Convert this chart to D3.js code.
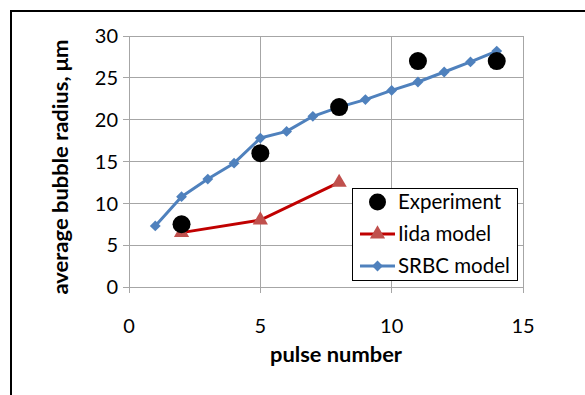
<!DOCTYPE html>
<html>
<head>
<meta charset="utf-8">
<script src="https://cdn.jsdelivr.net/npm/d3@7"></script>
<style>
  body { margin: 0; background: #fff; }
  text { font-family: Lato, "Open Sans", sans-serif; fill: #000; }
</style>
</head>
<body>
<svg id="chart"></svg>
<script>
// data
const pulses = [1, 2, 3, 4, 5, 6, 7, 8, 9, 10, 11, 12, 13, 14];
const srbc = [7.3, 10.8, 12.9, 14.8, 17.8, 18.6, 20.4, 21.5, 22.4, 23.5, 24.5, 25.7, 26.9, 28.2];
const iidaX = [2, 5, 8];
const iida = [6.5, 8.0, 12.5];
const expX = [2, 5, 8, 11, 14];
const experiment = [7.5, 16.0, 21.5, 27.0, 27.0];
const xTicks = [0, 5, 10, 15];
const yTicks = [0, 5, 10, 15, 20, 25, 30];

const width = 585, height = 395;
const margin = {top: 36, right: 62, bottom: 108, left: 129};

const svg = d3.select('#chart')
    .attr('width', width)
    .attr('height', height);

// outer frame (runs off the right/bottom edge)
svg.append('rect')
    .attr('x', 11).attr('y', 11)
    .attr('width', 620).attr('height', 420)
    .attr('fill', 'none')
    .attr('stroke', '#000')
    .attr('stroke-width', 2);

const x = d3.scaleLinear().domain([0, 15]).range([margin.left, width - margin.right]);
const y = d3.scaleLinear().domain([0, 30]).range([height - margin.bottom, margin.top]);

const grid = svg.append('g')
    .attr('stroke', '#a6a6a6')
    .attr('stroke-width', 1)
    .attr('shape-rendering', 'crispEdges');

grid.selectAll('.hgrid')
    .data(yTicks)
    .join('line')
    .attr('x1', x(0) - 6).attr('x2', x(15))
    .attr('y1', d => y(d)).attr('y2', d => y(d));

grid.selectAll('.vgrid')
    .data(xTicks)
    .join('line')
    .attr('x1', d => x(d)).attr('x2', d => x(d))
    .attr('y1', y(30)).attr('y2', y(0) + 6);

// tick labels
svg.append('g').selectAll('text')
    .data(yTicks)
    .join('text')
    .attr('x', x(0) - 11)
    .attr('y', d => y(d))
    .attr('dy', '0.36em')
    .attr('text-anchor', 'end')
    .style('font-size', '20px')
    .text(d => d);

svg.append('g').selectAll('text')
    .data(xTicks)
    .join('text')
    .attr('x', d => x(d))
    .attr('y', y(0) + 46)
    .attr('text-anchor', 'middle')
    .style('font-size', '20px')
    .text(d => d);

// axis titles
svg.append('text')
    .attr('x', 336)
    .attr('y', 362)
    .attr('text-anchor', 'middle')
    .attr('textLength', 132)
    .attr('lengthAdjust', 'spacingAndGlyphs')
    .style('font-size', '21px')
    .style('font-weight', 'bold')
    .text('pulse number');

svg.append('text')
    .attr('transform', 'translate(68, 167) rotate(-90)')
    .attr('text-anchor', 'middle')
    .attr('textLength', 255)
    .attr('lengthAdjust', 'spacingAndGlyphs')
    .style('font-size', '21px')
    .style('font-weight', 'bold')
    .text('average bubble radius, μm');

// series
const line = d3.line().x(d => x(d[0])).y(d => y(d[1]));
const srbcPts = pulses.map((p, i) => [p, srbc[i]]);
const iidaPts = iidaX.map((p, i) => [p, iida[i]]);
const expPts = expX.map((p, i) => [p, experiment[i]]);

const blue = '#4f81bd', red = '#c00000', redMark = '#c0504d';
const diamond = d3.symbol().type(d3.symbolDiamond2).size(75);
const triangle = d3.symbol().type(d3.symbolTriangle).size(100);

svg.append('path')
    .datum(srbcPts)
    .attr('d', line)
    .attr('fill', 'none')
    .attr('stroke', blue)
    .attr('stroke-width', 3)
    .attr('stroke-linejoin', 'round');

svg.append('g').selectAll('path')
    .data(srbcPts)
    .join('path')
    .attr('transform', d => `translate(${x(d[0])},${y(d[1])})`)
    .attr('d', diamond)
    .attr('fill', blue);

svg.append('path')
    .datum(iidaPts)
    .attr('d', line)
    .attr('fill', 'none')
    .attr('stroke', red)
    .attr('stroke-width', 3);

svg.append('g').selectAll('path')
    .data(iidaPts)
    .join('path')
    .attr('transform', d => `translate(${x(d[0])},${y(d[1])})`)
    .attr('d', triangle)
    .attr('fill', redMark);

svg.append('g').selectAll('circle')
    .data(expPts)
    .join('circle')
    .attr('cx', d => x(d[0]))
    .attr('cy', d => y(d[1]))
    .attr('r', 9)
    .attr('fill', '#000');

// legend
const legend = svg.append('g');
legend.append('rect')
    .attr('x', 352.5).attr('y', 188.5)
    .attr('width', 165).attr('height', 92)
    .attr('fill', '#fff')
    .attr('stroke', '#000')
    .attr('stroke-width', 1);

const items = [
    {label: 'Experiment', type: 'dot'},
    {label: 'Iida model', type: 'tri'},
    {label: 'SRBC model', type: 'dia'}
];
const rowY = [202, 234, 266];
const lx0 = 360, lx1 = 395, lmid = 377.5;

items.forEach((it, i) => {
    const cy = rowY[i];
    if (it.type === 'dot') {
        legend.append('circle').attr('cx', lmid).attr('cy', cy).attr('r', 8.5).attr('fill', '#000');
    } else {
        const col = it.type === 'tri' ? red : blue;
        legend.append('line')
            .attr('x1', lx0).attr('x2', lx1)
            .attr('y1', cy).attr('y2', cy)
            .attr('stroke', col).attr('stroke-width', 3);
        legend.append('path')
            .attr('transform', `translate(${lmid},${cy})`)
            .attr('d', it.type === 'tri' ? triangle : diamond)
            .attr('fill', it.type === 'tri' ? redMark : blue);
    }
    legend.append('text')
        .attr('x', 398)
        .attr('y', cy)
        .attr('dy', '0.36em')
        .style('font-size', '20.5px')
        .text(it.label);
});
</script>
</body>
</html>
